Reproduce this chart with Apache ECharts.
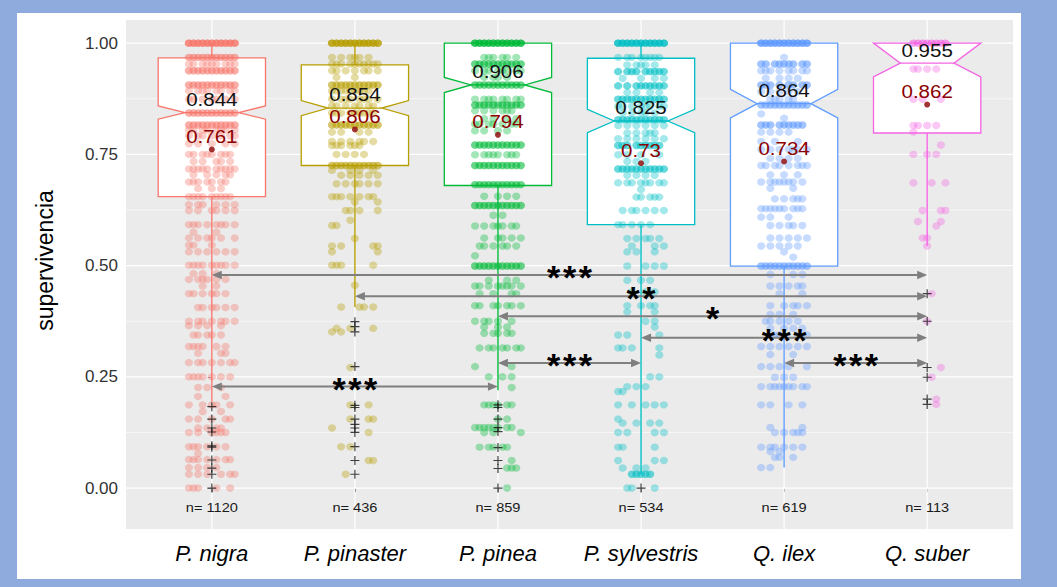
<!DOCTYPE html>
<html><head><meta charset="utf-8">
<script src="https://cdn.jsdelivr.net/npm/echarts@6/dist/echarts.min.js"></script>
<style>
html,body{margin:0;padding:0;background:#8FAADC;width:1057px;height:587px;overflow:hidden}
#chart{position:absolute;left:17px;top:13px;width:1004px;height:566px;background:#fff}
</style></head><body><div id="chart"></div>
<script>
// ---------------- data ----------------
const categories = ['P. nigra','P. pinaster','P. pinea','P. sylvestris','Q. ilex','Q. suber'];
const sampleSizes = [1120, 436, 859, 534, 619, 113];
const whiskerLow  = [0.194, 0.407, 0.220, 0.031, 0.046, 0.544];
const q1          = [0.655, 0.725, 0.680, 0.592, 0.499, 0.798];
const notchLow    = [0.829, 0.837, 0.889, 0.799, 0.832, 0.924];
const median      = [0.844, 0.854, 0.906, 0.825, 0.864, 0.955];
const notchHigh   = [0.859, 0.871, 0.923, 0.851, 0.896, 1.000];
const q3          = [0.967, 0.951, 1.000, 0.966, 1.000, 1.000];
const whiskerHigh = [1.000, 1.000, 1.000, 1.000, 1.000, 1.000];
const means       = [0.761, 0.806, 0.794, 0.73, 0.734, 0.862];
const outliers = [
  [0.183,0.155,0.135,0.126,0.095,0.092,0.063,0.045,0.031,0.0],
  [0.374,0.363,0.351,0.273,0.186,0.181,0.155,0.143,0.135,0.125,0.093,0.062,0.031],
  [0.187,0.181,0.155,0.136,0.127,0.091,0.062,0.044,0.0],
  [0.0],
  [],
  [0.437,0.375,0.271,0.249,0.200,0.188]
];
const yTickValues = [0, 0.25, 0.5, 0.75, 1];
const yMajorGrid = [0, 0.25, 0.5, 0.75, 1];
const yMinorGrid = [0.125, 0.375, 0.625, 0.875];
// pairwise comparisons (category index from -> to, y level, significance)
const arrowFrom  = [0, 1, 2, 3, 2, 4, 0];
const arrowTo    = [5, 5, 5, 5, 3, 5, 2];
const arrowY     = [0.479, 0.431, 0.386, 0.338, 0.281, 0.281, 0.228];
const arrowLabel = ['***', '**', '*', '***', '***', '***', '***'];
// jittered observations: [survival value, occupancy of jitter slots (digit = number of points)]
const pointsNigra = [
[1.000,'44444444444'],[0.968,'22222222222'],[0.953,'11.1111.111'],[0.938,'22222222222'],
[0.906,'22222222222'],[0.893,'1.111.11.11'],[0.874,'11.1.11.1.1'],[0.843,'22222222222'],
[0.816,'22222222222'],[0.805,'11.11.111.1'],[0.792,'1.11.1.1.11'],[0.774,'1.1..1..1.1'],
[0.750,'11.111.111.'],[0.734,'.1.1..11.1.'],[0.717,'11111.11111'],[0.704,'.1..1.1.11.'],
[0.688,'111.11.11..'],[0.673,'..1..1.1...'],[0.655,'1111.11111.'],[0.637,'1.11..1.1.1'],
[0.624,'1.1..11.1.1'],[0.592,'111.1.111.1'],[0.575,'.1....1....'],[0.562,'1.1.11.1..1'],
[0.546,'11...1.....'],[0.531,'1.1.1.1.1.1'],[0.501,'1111.1111.1'],[0.482,'.1.1..1....'],
[0.469,'1.111.1.1..'],[0.454,'...1..1....'],[0.437,'11.1.11.1..'],[0.406,'..11.11.1.1'],
[0.375,'1.11.1.11.1'],[0.365,'1.1.1..1...'],[0.344,'.11.11.1...'],[0.318,'1111..1.1..'],
[0.303,'..1....11..'],[0.282,'1.11.1.1.11'],[0.250,'1111.1.1.1.'],[0.226,'..1.1..1...'],
[0.206,'..1.....1..'],[0.187,'1..1.11..1.'],[0.172,'...1...1...'],[0.155,'1.1..1..11.'],
[0.135,'..1.1.11...'],[0.125,'1.1..1111..'],[0.093,'111.1.1.1..'],[0.078,'..1........'],
[0.064,'111.1.1.11.'],[0.046,'1.1.1.1....'],[0.031,'1.1.1..1.11'],[0.000,'111...1..1.']
];
const pointsPinaster = [
[1.000,'44444444444'],[0.968,'1.1.111.1..'],[0.953,'111.1111111'],[0.938,'11.1.1.11.1'],
[0.923,'.1...1.....'],[0.906,'22222222222'],[0.893,'111111111..'],[0.874,'1.111.111.1'],
[0.859,'11.1.11.11.'],[0.843,'111.111111.'],[0.816,'22222222222'],[0.800,'1.1...1.1..'],
[0.779,'1.1.1.11.1.'],[0.770,'111.111....'],[0.750,'.1.1.1.1...'],[0.725,'22222222222'],
[0.714,'1...1.1..1.'],[0.703,'..1.1.1.1.1'],[0.684,'.1.1.11.1.1'],[0.655,'111.1.1.11.'],
[0.643,'.....1....1'],[0.624,'...11.1...1'],[0.602,'....1......'],[0.590,'11.........'],
[0.561,'.....1.....'],[0.544,'1.1......11'],[0.531,'1.........1'],[0.501,'111......1.'],
[0.456,'.....1.....'],[0.407,'..1...11.1.'],[0.359,'.1..1....1.'],[0.351,'1.1........'],
[0.271,'....1......'],[0.187,'....1...1..'],[0.155,'....1...11.'],[0.135,'1..........'],
[0.125,'........1..'],[0.093,'..1.1......'],[0.062,'........11.'],[0.031,'...1.......']
];
const pointsPinea = [
[1.000,'44444444444'],[0.968,'..111.11.1.'],[0.953,'22222222222'],[0.938,'1.11.111.11'],
[0.923,'..1.11.1...'],[0.906,'22222222222'],[0.874,'1.111.11.11'],[0.861,'22222222222'],
[0.848,'1.1.1.111..'],[0.830,'..1.1..1.1.'],[0.818,'11.11.1.11.'],[0.803,'1.1..1.1...'],
[0.771,'22222222222'],[0.749,'1.1111.111.'],[0.725,'22222222222'],[0.682,'22222222222'],
[0.656,'..1..1.1.1.'],[0.635,'22222222222'],[0.613,'....1.1....'],[0.589,'1.1.111.11.'],
[0.562,'..1..11.1.1'],[0.544,'.11.1.11.1.'],[0.522,'1..........'],[0.499,'22222222222'],
[0.467,'...1...1.1.'],[0.454,'11.1.1111.1'],[0.437,'.1..1...11.'],[0.410,'11..11.11.1'],
[0.375,'1.11.1..1..'],[0.362,'..1..1.1...'],[0.348,'..1.11.11..'],[0.315,'.1.11.11.11'],
[0.273,'1.......1..'],[0.250,'...1..1.1..'],[0.226,'........1..'],[0.187,'..1111.11..'],
[0.155,'.....1.1...'],[0.136,'111111.11..'],[0.125,'..1.1.....1'],[0.092,'.1.11.11...'],
[0.062,'........1..'],[0.045,'.......111.'],[0.000,'.......1...']
];
const pointsSylvestris = [
[1.000,'44444444444'],[0.968,'1.11.11111.'],[0.951,'..1.111.1..'],[0.936,'2.222.22222'],
[0.921,'.1...1..1.1'],[0.904,'2.2.2222222'],[0.889,'..1.1..1.1.'],[0.874,'22222222222'],
[0.858,'11.1.111.11'],[0.843,'.1.1.11.1..'],[0.828,'22222222222'],[0.815,'1.1.1.1.1.1'],
[0.798,'..1.1.111..'],[0.785,'1.1.1.1.1.1'],[0.770,'222.222222.'],[0.749,'1.1..1...1.'],
[0.734,'..1.1.1....'],[0.717,'22222222222'],[0.703,'..1.1.1.1..'],[0.686,'1.11.111.11'],
[0.671,'.....1.....'],[0.654,'....11.111.'],[0.624,'.1.11.1.1.1'],[0.592,'11.1.1.1...'],
[0.561,'..1.1.11.1.'],[0.544,'...1....1.1'],[0.531,'..1.1...1..'],[0.499,'..1...1.1.1'],
[0.467,'..1..1.1...'],[0.441,'...1..1.1..'],[0.410,'..1..1.11..'],[0.396,'..1.....1..'],
[0.375,'......1.1..'],[0.362,'........1..'],[0.344,'1.1......1.'],[0.315,'11.1.....1.'],
[0.299,'.........1.'],[0.250,'.......1.1.'],[0.228,'..1.1.1....'],[0.217,'11.........'],
[0.187,'1..1..1.1.1'],[0.155,'1..........'],[0.146,'.1..1..1.1.'],[0.125,'1.1.....1.1'],
[0.092,'11......1..'],[0.062,'1.......1.1'],[0.045,'.1..1.1....'],[0.031,'...22222...'],
[0.000,'..11....1..']
];
const pointsIlex = [
[1.000,'44444444444'],[0.968,'.....1.....'],[0.953,'22.22222.22'],[0.938,'111.1.11.11'],
[0.921,'.1..1.1.1..'],[0.906,'222.2.22.22'],[0.891,'1.1.1.1.1..'],[0.874,'..111.11...'],
[0.861,'22222222222'],[0.841,'1..........'],[0.831,'.....1.....'],[0.816,'222.222222.'],
[0.800,'1.1.1.1....'],[0.779,'1..1....1..'],[0.761,'1.1.1.111.1'],[0.741,'..1.1.1.1..'],
[0.725,'11.11.1.111'],[0.704,'..1..1..1..'],[0.688,'1.111111.1.'],[0.674,'..1....1...'],
[0.650,'...1.1.111.'],[0.628,'111111.111.'],[0.609,'1.1...1....'],[0.590,'..1.1.11.1.'],
[0.562,'..1.1.1.1.1'],[0.544,'1.1.1.1.1..'],[0.531,'.....1.....'],[0.519,'.......1...'],
[0.499,'22222222222'],[0.480,'..1....1.1.'],[0.454,'..1.1.1.11.'],[0.437,'....1....1.'],
[0.410,'..1..1.11.1'],[0.390,'..1.1..1...'],[0.375,'.11.1.1.1..'],[0.359,'..1..1.1.1.'],
[0.344,'...11...1.1'],[0.318,'1.1.1.1.1.1'],[0.300,'..1....1...'],[0.273,'1.1.1.1...1'],
[0.249,'...1.1.1...'],[0.228,'1.111111.11'],[0.187,'1.1...1..1.'],[0.136,'..1......1.'],
[0.125,'...1.1.111.'],[0.092,'1.11.1.1.1.'],[0.082,'..1.1......'],[0.069,'...11..1...'],
[0.046,'1.1........']
];
const pointsSuber = [
[1.000,'..22222222.'],[0.942,'..11.1.1...'],[0.874,'..1.1...1..'],[0.815,'..11.1.1...'],
[0.800,'..1........'],[0.771,'........1..'],[0.750,'..1..1.1...'],[0.686,'..1...1..1.'],
[0.624,'....1...11.'],[0.599,'...1....1..'],[0.589,'.......1...'],[0.562,'....11.....'],
[0.544,'.....1.....'],[0.437,'......1....'],[0.375,'.....1.....'],[0.271,'........1..'],
[0.249,'......1....'],[0.200,'.......1...'],[0.188,'.......1...']
];
const pointRows = [pointsNigra, pointsPinaster, pointsPinea, pointsSylvestris, pointsIlex, pointsSuber];

// ---------------- styling ----------------
const colors = ['#F8766D','#B79F00','#00BA38','#00BFC4','#619CFF','#F564E3'];
const FONT = "'Liberation Sans', Arial, Helvetica, sans-serif";
const slotStep = 0.032;   // horizontal spacing between jitter slots (axis units)
const boxHalf = 0.375, notchHalf = 0.1875;
const labelLift = 0.03;

const chart = echarts.init(document.getElementById('chart'), null, {renderer: 'svg'});

function gridSeries(values, width) {
  return {
    type: 'custom', z: 1, silent: true, clip: false,
    data: values.map(v => [0, v]), encode: {x: 0, y: 1},
    renderItem: (params, api) => {
      const cs = params.coordSys;
      const y = api.coord([0, api.value(1)])[1];
      return {type: 'line', shape: {x1: cs.x, y1: y, x2: cs.x + cs.width, y2: y},
              style: {stroke: '#ffffff', lineWidth: width}};
    }
  };
}
function vGridSeries() {
  return {
    type: 'custom', z: 1, silent: true,
    data: categories.map((c, i) => [i, 0]), encode: {x: 0, y: 1},
    renderItem: (params, api) => {
      const cs = params.coordSys;
      const x = api.coord([api.value(0), 0])[0];
      return {type: 'line', shape: {x1: x, y1: cs.y, x2: x, y2: cs.y + cs.height},
              style: {stroke: '#ffffff', lineWidth: 1.2}};
    }
  };
}

const boxSeries = {
  type: 'custom', z: 2, silent: true,
  data: categories.map((c, i) => [i, whiskerLow[i], q1[i], notchLow[i], median[i], notchHigh[i], q3[i], whiskerHigh[i]]),
  encode: {x: 0, y: [1, 2, 3, 4, 5, 6, 7]},
  renderItem: (params, api) => {
    const i = api.value(0);
    const col = colors[params.dataIndex];
    const X = d => api.coord([i + d, 0])[0];
    const Y = k => api.coord([i, api.value(k)])[1];
    const xc = X(0), xl = X(-boxHalf), xr = X(boxHalf), nxl = X(-notchHalf), nxr = X(notchHalf);
    const wl = Y(1), b1 = Y(2), nl = Y(3), md = Y(4), nh = Y(5), b3 = Y(6), wh = Y(7);
    const ls = {stroke: col, lineWidth: 1.4};
    return {type: 'group', children: [
      {type: 'line', shape: {x1: xc, y1: b3, x2: xc, y2: wh}, style: ls},
      {type: 'line', shape: {x1: xc, y1: b1, x2: xc, y2: wl}, style: ls},
      {type: 'polygon', shape: {points: [[xl, b3], [xr, b3], [xr, nh], [nxr, md], [xr, nl], [xr, b1],
                                         [xl, b1], [xl, nl], [nxl, md], [xl, nh]]},
       style: {fill: '#ffffff', stroke: col, lineWidth: 1.3}},
      {type: 'line', shape: {x1: nxl, y1: md, x2: nxr, y2: md}, style: {stroke: col, lineWidth: 1.3}}
    ]};
  }
};

const pointSeries = pointRows.map((rows, i) => {
  const data = [];
  rows.forEach(([v, pat]) => {
    for (let k = 0; k < pat.length; k++) {
      const n = pat[k] === '.' ? 0 : parseInt(pat[k], 10);
      for (let r = 0; r < n; r++) data.push([i + (k - 5) * slotStep, v]);
    }
  });
  return {type: 'scatter', z: 3, silent: true, data, symbol: 'circle', symbolSize: [8.2, 7.4],
          itemStyle: {color: colors[i], opacity: 0.36}};
});

const outlierSeries = {
  type: 'scatter', z: 4, silent: true,
  data: outliers.flatMap((arr, i) => arr.map(v => [i, v])),
  symbol: 'path://M4.35,0H5.65V4.35H10V5.65H5.65V10H4.35V5.65H0V4.35H4.35Z',
  symbolSize: 9, itemStyle: {color: '#111111'}
};
const meanSeries = {
  type: 'scatter', z: 5, silent: true,
  data: means.map((m, i) => [i, m]), symbolSize: 6, itemStyle: {color: '#8B0000'}
};

function textSeries(xs, ys, texts, style, z, sx) {
  return {
    type: 'custom', z, silent: true, clip: false,
    data: xs.map((x, i) => [x, ys[i]]), encode: {x: 0, y: 1},
    renderItem: (params, api) => {
      const p = api.coord([api.value(0), api.value(1)]);
      return {type: 'text', x: p[0], y: p[1], scaleX: sx, scaleY: 1,
              style: Object.assign({text: texts[params.dataIndex], align: 'center', verticalAlign: 'middle',
                                    fontFamily: FONT}, style)};
    }
  };
}
const idx = categories.map((c, i) => i);
const medianLabels = textSeries(idx, median.map(m => m + labelLift), median.map(String),
  {fill: '#111111', fontSize: 19}, 6, 1.08);
const meanLabels = textSeries(idx, means.map(m => m + labelLift), means.map(String),
  {fill: '#8B0000', fontSize: 19}, 6, 1.08);
const nLabels = textSeries(idx, idx.map(() => -0.043), sampleSizes.map(n => 'n= ' + n),
  {fill: '#1a1a1a', fontSize: 13.5}, 6, 1.08);

const arrowSeries = {
  type: 'custom', z: 7, silent: true, clip: false,
  data: arrowFrom.map((f, k) => [f, arrowTo[k], arrowY[k]]), encode: {x: [0, 1], y: 2},
  renderItem: (params, api) => {
    const a = api.coord([api.value(0), api.value(2)]);
    const b = api.coord([api.value(1), api.value(2)]);
    const L = 10, H = 4.2, col = '#7F7F7F';
    return {type: 'group', children: [
      {type: 'line', shape: {x1: a[0] + 4, y1: a[1], x2: b[0] - 4, y2: b[1]}, style: {stroke: col, lineWidth: 2}},
      {type: 'polygon', shape: {points: [[a[0], a[1]], [a[0] + L, a[1] - H], [a[0] + L, a[1] + H]]}, style: {fill: col}},
      {type: 'polygon', shape: {points: [[b[0], b[1]], [b[0] - L, b[1] - H], [b[0] - L, b[1] + H]]}, style: {fill: col}}
    ]};
  }
};
const starSeries = {
  type: 'custom', z: 8, silent: true, clip: false,
  data: arrowFrom.map((f, k) => [(f + arrowTo[k]) / 2, arrowY[k]]), encode: {x: 0, y: 1},
  renderItem: (params, api) => {
    const p = api.coord([api.value(0), api.value(1)]);
    const s = arrowLabel[params.dataIndex];
    const gap = 15.8, n = s.length;
    const children = [];
    for (let j = 0; j < n; j++) {
      children.push({type: 'text', x: p[0] + (j - (n - 1) / 2) * gap, y: p[1] + 2,
        style: {text: s[j], align: 'center', verticalAlign: 'middle', fill: '#000',
                fontSize: 34, fontWeight: 'bold', fontFamily: FONT}});
    }
    return {type: 'group', children};
  }
};

chart.setOption({
  animation: false,
  backgroundColor: '#ffffff',
  grid: {left: 109, right: 8, top: 7, bottom: 50, show: true, backgroundColor: '#EBEBEB', borderWidth: 0},
  xAxis: {
    type: 'value', min: -0.6, max: 5.6,
    axisLine: {show: false},
    axisTick: {show: true, customValues: idx, length: 4, lineStyle: {color: '#333333', width: 1}},
    axisLabel: {customValues: idx, formatter: v => categories[Math.round(v)], fontSize: 22, fontStyle: 'italic',
                color: '#000000', margin: 13, fontFamily: FONT},
    splitLine: {show: false}
  },
  yAxis: {
    type: 'value', min: -0.092, max: 1.052,
    axisLine: {show: false},
    axisTick: {show: true, customValues: yTickValues, length: 4, lineStyle: {color: '#333333', width: 1}},
    axisLabel: {customValues: yTickValues, formatter: v => v.toFixed(2), fontSize: 17, color: '#333333',
                margin: 8, fontFamily: FONT},
    splitLine: {show: false},
    name: 'supervivencia', nameLocation: 'middle', nameGap: 70, nameRotate: 90,
    nameTextStyle: {fontSize: 23, color: '#000000', fontFamily: FONT, padding: [0, 0, 0, 28]}
  },
  series: [gridSeries(yMinorGrid, 0.6), gridSeries(yMajorGrid, 1.2), vGridSeries(), boxSeries]
    .concat(pointSeries)
    .concat([outlierSeries, meanSeries, medianLabels, meanLabels, nLabels, arrowSeries, starSeries])
});
</script></body></html>
